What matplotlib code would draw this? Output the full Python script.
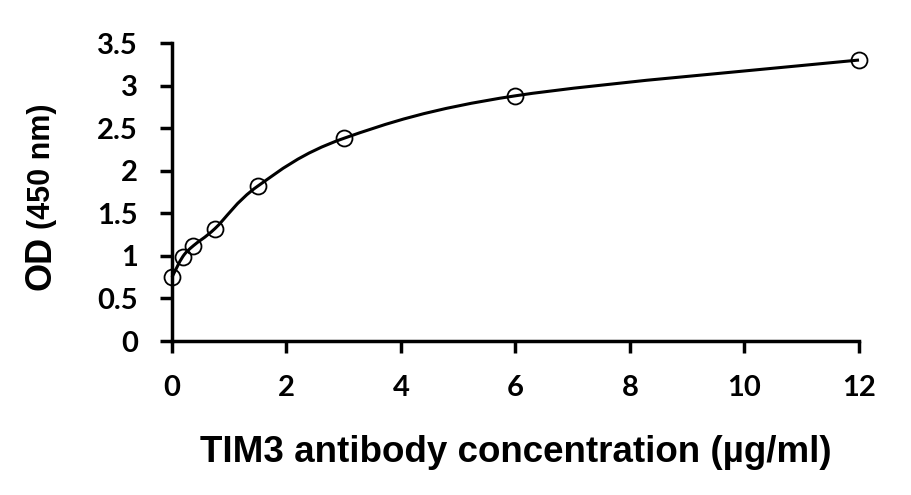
import numpy as np
import matplotlib
matplotlib.use("Agg")
import matplotlib.pyplot as plt
from matplotlib.path import Path
from matplotlib.patches import PathPatch

# Data
conc = [0, 0.1875, 0.375, 0.75, 1.5, 3, 6, 12]
od = [0.75, 0.99, 1.12, 1.32, 1.82, 2.38, 2.88, 3.30]
xticks = [0, 2, 4, 6, 8, 10, 12]
yticks = [0, 0.5, 1, 1.5, 2, 2.5, 3, 3.5]
ytick_labels = ["0", "0.5", "1", "1.5", "2", "2.5", "3", "3.5"]
xlabel = "TIM3 antibody concentration (µg/ml)"

W, H = 912, 495
fig = plt.figure(figsize=(W / 100, H / 100), dpi=100)
ax = fig.add_axes([172 / W, 1 - 341 / H, (859 - 172) / W, (341 - 43) / H])

# Smooth (Catmull-Rom style Bezier) line through the points
px = np.array(conc, float)
py = np.array(od, float)
n = len(px)
verts = [(px[0], py[0])]
codes = [Path.MOVETO]
for i in range(n - 1):
    p0 = np.array([px[max(i - 1, 0)], py[max(i - 1, 0)]])
    p1 = np.array([px[i], py[i]])
    p2 = np.array([px[i + 1], py[i + 1]])
    p3 = np.array([px[min(i + 2, n - 1)], py[min(i + 2, n - 1)]])
    c1 = p1 + (p2 - p0) / 6.0
    c2 = p2 - (p3 - p1) / 6.0
    verts += [tuple(c1), tuple(c2), tuple(p2)]
    codes += [Path.CURVE4] * 3
ax.add_patch(PathPatch(Path(verts, codes), facecolor="none", edgecolor="black",
                       lw=2.2, zorder=2, clip_on=False))

ax.plot(conc, od, linestyle="none", marker="o", markersize=11.5,
        markerfacecolor="none", markeredgecolor="black", markeredgewidth=1.3,
        zorder=3, clip_on=False)

ax.set_xlim(0, 12)
ax.set_ylim(0, 3.5)
ax.set_xticks(xticks)
ax.set_xticklabels([str(t) for t in xticks])
ax.set_yticks(yticks)
ax.set_yticklabels(ytick_labels)

for s in ["top", "right"]:
    ax.spines[s].set_visible(False)
for s in ["left", "bottom"]:
    ax.spines[s].set_linewidth(2.5)
    ax.spines[s].set_capstyle("projecting")
ax.tick_params(axis="both", direction="out", length=8.6, width=2.5,
               labelsize=21, pad=16)
for lab in ax.get_xticklabels() + ax.get_yticklabels():
    lab.set_fontfamily("Lato")
    lab.set_fontweight("bold")

ax.set_xlabel(xlabel, fontsize=26.5, fontweight="bold",
              fontfamily="Liberation Sans", labelpad=24)

# Y label: "OD" large, "(450 nm)" smaller
t1 = fig.text(41 / W, 1 - 290 / H, "OD", rotation=90, ha="center", va="bottom",
              fontsize=26, fontweight="bold", fontfamily="Liberation Sans")
fig.canvas.draw()
bb = t1.get_window_extent()
t2 = fig.text(42 / W, (bb.y1 + 7) / H, "(450 nm)", rotation=90, ha="center",
              va="bottom", fontsize=22, fontweight="bold",
              fontfamily="Liberation Sans")

fig.savefig("out.png", dpi=100)
